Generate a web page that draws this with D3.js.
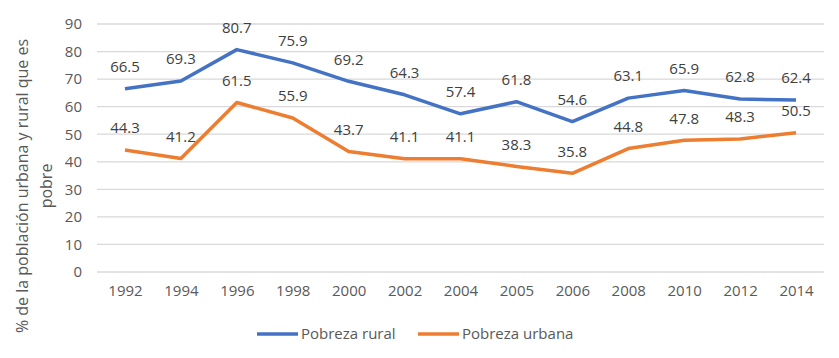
<!DOCTYPE html>
<html><head><meta charset="utf-8">
<script src="https://cdn.jsdelivr.net/npm/d3@7"></script>
<style>body{margin:0;background:#fff}svg{display:block}</style>
</head><body><svg id="c" width="839" height="358"></svg>
<script>
const years = ["1992","1994","1996","1998","2000","2002","2004","2005","2006","2008","2010","2012","2014"];
const rural = [66.5,69.3,80.7,75.9,69.2,64.3,57.4,61.8,54.6,63.1,65.9,62.8,62.4];
const urbana = [44.3,41.2,61.5,55.9,43.7,41.1,41.1,38.3,35.8,44.8,47.8,48.3,50.5];
const yTicks = [0,10,20,30,40,50,60,70,80,90];
const seriesNames = ["Pobreza rural","Pobreza urbana"];
const colors = ["#4472C4","#ED7D31"];

const svg = d3.select("#c");
const font = "'Open Sans', sans-serif";
const pLeft = 97, pRight = 824, pTop = 24, pBottom = 272;
const x = d3.scalePoint().domain(years).range([pLeft, pRight]).padding(0.5);
const y = d3.scaleLinear().domain([0,90]).range([pBottom, pTop]);

// gridlines
svg.append("g").selectAll("line").data(yTicks).join("line")
  .attr("x1", pLeft).attr("x2", pRight)
  .attr("y1", d=>y(d)).attr("y2", d=>y(d))
  .attr("stroke", "#d9d9d9").attr("stroke-width", 1.3);

// y axis labels
const ya = svg.append("g").attr("transform", `translate(${pLeft-15},0)`)
  .call(d3.axisLeft(y).tickValues(yTicks).tickSize(0).tickPadding(0));
ya.select(".domain").remove();
ya.selectAll("text").attr("font-family", font).attr("font-size", 15).attr("fill", "#595959");

// x axis labels
const xa = svg.append("g").attr("transform", `translate(0,${pBottom+13})`)
  .call(d3.axisBottom(x).tickSize(0).tickPadding(0));
xa.select(".domain").remove();
xa.selectAll("text").attr("font-family", font).attr("font-size", 15).attr("fill", "#595959").attr("dy", "0.71em");

// y title
const yt = svg.append("text").attr("transform", "translate(28,186) rotate(-90)")
  .attr("text-anchor", "middle").attr("font-family", font).attr("font-size", 16).attr("fill", "#595959");
yt.append("tspan").attr("x", 0).attr("dy", 0).text("% de la población urbana y rural que es");
yt.append("tspan").attr("x", 0).attr("dy", 24).text("pobre");

// lines
const line = d3.line().x((d,i)=>x(years[i])).y(d=>y(d));
[rural, urbana].forEach((s, k) => {
  svg.append("path").datum(s).attr("d", line).attr("fill", "none")
    .attr("stroke", colors[k]).attr("stroke-width", 3.5).attr("stroke-linejoin", "round");
});
// labels
[rural, urbana].forEach((s, k) => {
  svg.append("g").selectAll("text").data(s).join("text")
    .attr("x", (d,i)=>x(years[i])).attr("y", d=>y(d) - 22)
    .attr("dy", "0.35em").attr("text-anchor", "middle")
    .attr("font-family", font).attr("font-size", 15).attr("fill", "#404040")
    .text(d=>d.toFixed(1));
});

// legend
const legX = [257, 418];
seriesNames.forEach((n, k) => {
  const g = svg.append("g").attr("transform", `translate(${legX[k]},334)`);
  g.append("line").attr("x1", 0).attr("x2", 41).attr("y1", 0).attr("y2", 0)
    .attr("stroke", colors[k]).attr("stroke-width", 3.5);
  g.append("text").attr("x", 44).attr("y", 0).attr("dy", "0.35em")
    .attr("font-family", font).attr("font-size", 15).attr("fill", "#595959").text(n);
});
</script></body></html>
